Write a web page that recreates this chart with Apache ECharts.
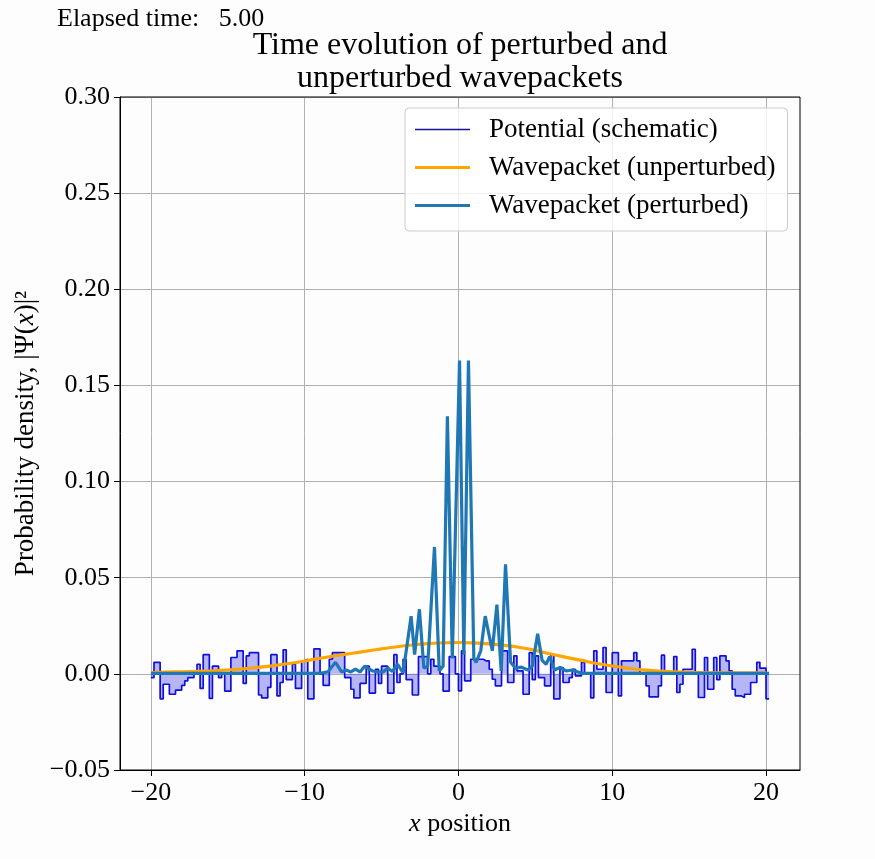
<!DOCTYPE html>
<html>
<head>
<meta charset="utf-8">
<script src="https://cdn.jsdelivr.net/npm/echarts@6/dist/echarts.min.js"></script>
<style>
  html, body { margin: 0; padding: 0; background: #fdfdfd; }
  #chart { width: 875px; height: 859px; }
</style>
</head>
<body>
<div id="chart"></div>
<script>
// potential steps: one value per 0.2 wide cell starting at x = -20
const potStart = -20;
const potStep = 0.2;
const potential = [
  -0.002, 0.006, 0.006, -0.013, -0.0054, -0.0054, -0.0106, -0.0106, -0.0085, -0.0085,
  -0.006, -0.0036, -0.002, -0.002, 0.0016, 0.005, -0.0076, 0.010, 0.010, -0.0128,
  0.004, 0.004, -0.002, 0.0, -0.009, -0.009, 0.0085, 0.0085, 0.012, 0.012,
  -0.005, 0.0094, 0.011, 0.011, 0.011, -0.011, -0.0125, -0.0125, -0.007, 0.010,
  0.010, -0.0115, -0.0045, 0.0125, -0.003, -0.003, 0.005, -0.0076, -0.0076, 0.0068,
  0.0076, -0.013, -0.013, 0.013, 0.013, 0.0, -0.006, -0.006, 0.0076, 0.011,
  0.011, 0.011, 0.011, -0.002, -0.002, -0.008, -0.0125, -0.0125, -0.005, -0.005,
  0.004, -0.010, -0.010, 0.0024, -0.005, 0.004, 0.004, -0.010, -0.010, 0.010,
  -0.0045, 0.0, 0.0076, -0.003, -0.003, -0.011, -0.011, 0.009, 0.009, 0.009,
  0.0, 0.0076, 0.004, 0.004, 0.0, -0.009, -0.009, 0.009, 0.009, 0.0,
  -0.0088, 0.012, -0.0036, -0.0036, 0.0076, 0.0076, 0.0076, 0.0076, 0.0068, 0.0068,
  0.0024, -0.0028, -0.0062, -0.0062, 0.012, 0.012, -0.0045, -0.0045, 0.0094, 0.0016,
  0.0016, -0.0106, -0.0106, 0.011, -0.003, 0.0094, -0.002, -0.002, -0.0062, -0.0062,
  0.010, -0.013, -0.013, 0.0033, -0.0045, -0.0045, -0.002, 0.0024, -0.001, -0.001,
  0.006, 0.0, 0.0, -0.0125, 0.012, 0.0024, 0.0024, 0.0137, -0.0097, -0.0097,
  0.011, 0.011, -0.0115, 0.0068, 0.0068, 0.0068, 0.0068, 0.011, 0.0068, 0.0,
  0.0, -0.0062, -0.012, -0.012, -0.012, -0.0062, 0.0097, 0.0, 0.0, 0.0,
  0.009, -0.0097, -0.0054, 0.0024, 0.0024, 0.0024, 0.0128, 0.0, -0.0123, -0.0123,
  0.0085, -0.008, -0.008, 0.0085, -0.003, 0.0094, 0.0094, 0.0068, 0.0016, -0.008,
  -0.0115, -0.0115, -0.0123, -0.0106, -0.0106, -0.0045, -0.0045, 0.006, 0.003, 0.003,
  -0.013
];

// unperturbed wavepacket, read at integer x
const unpertX = [
  -20, -19, -18, -17, -16, -15, -14, -13, -12, -11, -10, -9, -8, -7, -6, -5, -4, -3, -2, -1, 0,
  1, 2, 3, 4, 5, 6, 7, 8, 9, 10, 11, 12, 13, 14, 15, 16, 17, 18, 19, 20
];
const unpertY = [
  0.0007, 0.0009, 0.0011, 0.0013, 0.0016, 0.0020, 0.0026, 0.0034, 0.0043, 0.0054, 0.0067,
  0.0081, 0.0094, 0.0106, 0.0118, 0.0130, 0.0141, 0.0150, 0.0157, 0.0161, 0.0163,
  0.0161, 0.0156, 0.0148, 0.0137, 0.0122, 0.0103, 0.0086, 0.0070, 0.0054, 0.0041,
  0.0030, 0.0021, 0.0015, 0.0011, 0.0008, 0.0006, 0.0005, 0.0005, 0.0005, 0.0005
];

// perturbed wavepacket
const pertX = [
  -20, -9.0, -8.5, -8.0, -7.6, -7.3, -7.0, -6.7, -6.4, -6.1, -5.6, -5.2, -4.9, -4.6, -4.3,
  -3.96, -3.6, -3.08, -2.85, -2.54, -2.25, -2.0, -1.56, -1.25, -1.0, -0.72, -0.4, 0.07,
  0.35, 0.65, 1.0, 1.15, 1.45, 1.74, 2.2, 2.5, 2.78, 3.06, 3.39, 3.7, 4.1, 4.5, 4.8, 5.15,
  5.44, 5.7, 5.93, 6.25, 6.6, 7.0, 7.4, 8.0, 20.2
];
const pertY = [
  0.0003, 0.0003, 0.001, 0.006, 0.001, 0.002, 0.001, 0.0025, 0.001, 0.004, 0.0015, 0.001, 0.001,
  0.003, 0.0012, 0.005, 0.0005, 0.030, 0.010, 0.0336, 0.003, 0.004, 0.066, 0.0016, 0.004,
  0.134, 0.008, 0.163, 0.010, 0.163, 0.008, 0.006, 0.012, 0.030, 0.012, 0.036, 0.0016, 0.057,
  0.006, 0.003, 0.0035, 0.002, 0.004, 0.0208, 0.007, 0.005, 0.009, 0.002, 0.0033, 0.0015,
  0.002, 0.0003, 0.0003
];

const xTicks = [-20, -10, 0, 10, 20];
const elapsed = "5.00";

const serif = "Liberation Serif";

const potData = potential.map((v, i) => [potStart + i * potStep, v]);
potData.push([potStart + potential.length * potStep, potential[potential.length - 1]]);

const minus = (s) => s.replace("-", "\u2212");

const chart = echarts.init(document.getElementById("chart"), null, { renderer: "canvas" });

const option = {
  backgroundColor: "#fdfdfd",
  animation: false,
  textStyle: { fontFamily: serif, color: "#000" },
  graphic: [
    {
      type: "text",
      x: 57,
      y: 6,
      style: { text: "Elapsed time:   " + elapsed, font: "26px " + serif, fill: "#000", verticalAlign: "top" },
    },
    {
      type: "text",
      x: 460,
      y: 29,
      style: {
        text: "Time evolution of perturbed and\nunperturbed wavepackets",
        font: "32px " + serif,
        fill: "#000",
        align: "center",
        verticalAlign: "top",
        lineHeight: 33,
      },
    },
    {
      // top and right spines
      type: "rect",
      shape: { x: 120, y: 97, width: 680, height: 673 },
      style: { fill: null, stroke: "#000", lineWidth: 1 },
      z: 10,
      silent: true,
    },
  ],
  legend: {
    left: 405,
    top: 108,
    orient: "vertical",
    padding: [8, 12, 12, 10],
    itemWidth: 55,
    itemHeight: 14,
    itemGap: 11,
    backgroundColor: "rgba(255,255,255,0.8)",
    borderColor: "#cccccc",
    borderWidth: 1,
    borderRadius: 4,
    textStyle: { fontFamily: serif, fontSize: 27, color: "#000", padding: [0, 0, 0, 14] },
    data: [
      { name: "Potential (schematic)", icon: "path://M0,0L55,0L55,1.6L0,1.6Z", itemStyle: { color: "#14148c" } },
      { name: "Wavepacket (unperturbed)", icon: "path://M0,0L55,0L55,3.2L0,3.2Z" },
      { name: "Wavepacket (perturbed)", icon: "path://M0,0L55,0L55,3.2L0,3.2Z" },
    ],
  },
  grid: { left: 120, right: 75, top: 97, bottom: 89, containLabel: false },
  xAxis: {
    type: "value",
    min: -22.01,
    max: 22.21,
    name: "{i|x} position",
    nameLocation: "middle",
    nameGap: 34,
    nameTextStyle: {
      fontFamily: serif,
      fontSize: 26,
      color: "#000",
      rich: { i: { fontStyle: "italic", fontFamily: serif, fontSize: 26 } },
    },
    axisLine: { onZero: false, lineStyle: { color: "#000", width: 1 } },
    axisTick: { show: true, inside: false, length: 6, customValues: xTicks, lineStyle: { color: "#000" } },
    axisLabel: {
      customValues: xTicks,
      margin: 10,
      fontFamily: serif,
      fontSize: 26,
      color: "#000",
      formatter: (v) => minus(String(v)),
    },
    splitLine: { show: true, lineStyle: { color: "#b0b0b0", width: 1 } },
  },
  yAxis: {
    type: "value",
    min: -0.05,
    max: 0.3,
    interval: 0.05,
    name: "Probability density, |\u03a8({i|x})|\u00b2",
    nameLocation: "middle",
    nameGap: 77,
    nameRotate: 90,
    nameTextStyle: {
      fontFamily: serif,
      fontSize: 27,
      color: "#000",
      rich: { i: { fontStyle: "italic", fontFamily: serif, fontSize: 27 } },
    },
    axisLine: { show: true, onZero: false, lineStyle: { color: "#000", width: 1 } },
    axisTick: { show: true, inside: false, length: 6, lineStyle: { color: "#000" } },
    axisLabel: {
      margin: 10,
      fontFamily: serif,
      fontSize: 26,
      color: "#000",
      formatter: (v) => minus((Math.round(v * 100) / 100).toFixed(2)),
    },
    splitLine: { show: true, lineStyle: { color: "#b0b0b0", width: 1 } },
  },
  series: [
    {
      name: "Potential (schematic)",
      type: "line",
      step: "end",
      data: potData,
      showSymbol: false,
      symbol: "none",
      lineStyle: { color: "#1010d8", width: 1.7 },
      itemStyle: { color: "#1010d8" },
      areaStyle: { color: "rgba(30,30,235,0.45)", origin: 0 },
      z: 2,
    },
    {
      name: "Wavepacket (unperturbed)",
      type: "line",
      data: unpertX.map((x, i) => [x, unpertY[i]]),
      smooth: true,
      showSymbol: false,
      symbol: "none",
      lineStyle: { color: "#ffa500", width: 3.2 },
      itemStyle: { color: "#ffa500" },
      z: 3,
    },
    {
      name: "Wavepacket (perturbed)",
      type: "line",
      data: pertX.map((x, i) => [x, pertY[i]]),
      showSymbol: false,
      symbol: "none",
      lineStyle: { color: "#1f77b4", width: 3.2 },
      itemStyle: { color: "#1f77b4" },
      z: 4,
    },
  ],
};

chart.setOption(option);
</script>
</body>
</html>
